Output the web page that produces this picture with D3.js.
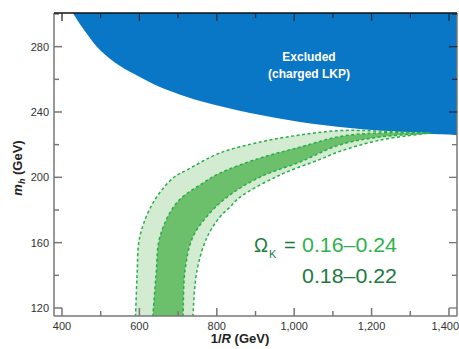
<!DOCTYPE html>
<html>
<head>
<meta charset="utf-8">
<script src="https://cdn.jsdelivr.net/npm/d3@7"></script>
<style>
  body { margin: 0; background: #fff; }
  svg { display: block; font-family: "Liberation Sans", Arial, sans-serif; }
</style>
</head>
<body>
<svg id="chart" width="459" height="349"></svg>
<script>
"use strict"

// axis ticks
var xMajor = [400, 600, 800, 1000, 1200, 1400];
var xMinor = [500, 700, 900, 1100, 1300];
var yMajor = [120, 160, 200, 240, 280];
var yMinor = [140, 180, 220, 260, 300];

// excluded region edge (1/R, m_h)
var excludedEdge = [[428, 300.6], [459, 289.6], [498, 277.9], [550, 268.1], [601, 261.4], [653, 255.3],
    [757, 246.7], [886, 239.4], [1015, 233.9], [1144, 230.2], [1273, 227.8], [1421, 225.9]];

// relic density bands, Omega_K = 0.16-0.24 (outer) and 0.18-0.22 (inner)
var outerUpper = [[588, 108], [590, 115.7], [594, 140], [601, 163.6], [635, 184.3], [687, 199.6], [723, 204.5],
    [808, 214.9], [912, 221.6], [1015, 225.9], [1118, 228.6], [1222, 228.3], [1351, 227.1]];
var outerLower = [[738, 108], [738.5, 115.7], [749, 143.2], [775, 163.4], [808, 175.7], [834, 181.8], [860, 187.9],
    [963, 201.4], [1067, 211.0], [1118, 215.9], [1222, 222.8], [1351, 227.1]];
var innerUpper = [[633, 108], [635, 115.7], [643, 140], [653, 163.6], [696, 184.3], [764, 196.5], [808, 202.6],
    [912, 211.8], [1015, 218.5], [1118, 225.0], [1222, 227.2], [1351, 227.1]];
var innerLower = [[712, 108], [713, 115.7], [718, 143.2], [738, 163.4], [782, 178.1], [834, 189.2], [912, 200.2],
    [1015, 209.4], [1118, 219.9], [1222, 224.7], [1351, 227.1]];

var svg = d3.select("#chart");
var pLeft = 54, pRight = 457, pTop = 13, pBottom = 316;

var x = d3.scaleLinear().domain([379.3, 1420.7]).range([pLeft, pRight]);
var y = d3.scaleLinear().domain([115.1, 300.6]).range([pBottom, pTop]);

svg.append("defs").append("clipPath").attr("id", "plot")
    .append("rect").attr("x", pLeft).attr("y", pTop).attr("width", pRight - pLeft).attr("height", pBottom - pTop);

var g = svg.append("g").attr("clip-path", "url(#plot)");

var line = d3.line().x(function (d) { return x(d[0]); }).y(function (d) { return y(d[1]); })
    .curve(d3.curveCatmullRom);

function band(upper, lower) {
    var back = line(lower.slice().reverse());
    return line(upper) + "L" + back.slice(1) + "Z";
}

// excluded region
var edgePath = line(excludedEdge);
g.append("path")
    .attr("d", edgePath + "L" + x(1430) + "," + y(310) + "L" + x(420) + "," + y(310) + "Z")
    .style("fill", "#0a76c6");

// bands
g.append("path").attr("d", band(outerUpper, outerLower)).style("fill", "#d3ebd0");
g.append("path").attr("d", band(innerUpper, innerLower)).style("fill", "#6cbf6b");

[outerUpper, outerLower, innerUpper, innerLower].forEach(function (pts) {
    g.append("path").attr("d", line(pts))
        .style("fill", "none").style("stroke", "#29ad4b")
        .style("stroke-width", 1.5).style("stroke-dasharray", "3,2.5");
});

// frame and ticks
var frame = svg.append("g").style("stroke", "#777").style("stroke-width", 1.5);
frame.append("line").attr("x1", pLeft).attr("x2", pLeft).attr("y1", pTop).attr("y2", pBottom);
frame.append("line").attr("x1", pLeft).attr("x2", pRight).attr("y1", pBottom).attr("y2", pBottom);
frame.append("line").attr("x1", pRight).attr("x2", pRight).attr("y1", pTop).attr("y2", pBottom);
svg.append("line").attr("x1", pLeft).attr("x2", pRight).attr("y1", pTop).attr("y2", pTop)
    .style("stroke", "#111").style("stroke-width", 1.5);

function ticksX(vals, len) {
    vals.forEach(function (v) {
        frame.append("line").attr("x1", x(v)).attr("x2", x(v)).attr("y1", pBottom).attr("y2", pBottom - len);
        svg.append("line").attr("x1", x(v)).attr("x2", x(v)).attr("y1", pTop).attr("y2", pTop + len)
            .style("stroke", "#1a2a3a").style("stroke-width", 1.3);
    });
}
function ticksY(vals, len) {
    vals.forEach(function (v) {
        frame.append("line").attr("y1", y(v)).attr("y2", y(v)).attr("x1", pLeft).attr("x2", pLeft + len);
        var c = y(v) < y(226) ? "#1a2a3a" : "#777";
        svg.append("line").attr("y1", y(v)).attr("y2", y(v)).attr("x1", pRight).attr("x2", pRight - len)
            .style("stroke", c).style("stroke-width", 1.3);
    });
}
ticksX(xMajor, 8); ticksX(xMinor, 5);
ticksY(yMajor, 8); ticksY(yMinor, 5);

var fmt = d3.format(",");
svg.selectAll(".xl").data(xMajor).enter().append("text")
    .attr("x", function (d) { return d === 1400 ? 459 : x(d); }).attr("y", 329.5)
    .attr("text-anchor", function (d) { return d === 1400 ? "end" : "middle"; })
    .style("font-size", "11px").style("fill", "#333")
    .text(function (d) { return fmt(d); });
svg.selectAll(".yl").data(yMajor).enter().append("text")
    .attr("x", 49).attr("y", function (d) { return y(d) + 4; })
    .attr("text-anchor", "end").style("font-size", "11px").style("fill", "#333")
    .text(function (d) { return d; });

// axis titles
var xt = svg.append("text").attr("x", 240).attr("y", 343).attr("text-anchor", "middle")
    .style("font-size", "13px").style("font-weight", "bold").style("fill", "#222");
xt.append("tspan").text("1/");
xt.append("tspan").style("font-style", "italic").text("R");
xt.append("tspan").text(" (GeV)");

var yt = svg.append("text").attr("transform", "translate(22,168) rotate(-90)").attr("text-anchor", "middle")
    .style("font-size", "13px").style("font-weight", "bold").style("fill", "#222");
yt.append("tspan").style("font-style", "italic").text("m");
yt.append("tspan").style("font-style", "italic").style("font-size", "9px").attr("dy", 3).text("h");
yt.append("tspan").attr("dy", -3).text(" (GeV)");

// labels
svg.append("text").attr("x", 309).attr("y", 61).attr("text-anchor", "middle")
    .style("font-size", "12px").style("font-weight", "bold").style("fill", "#fff").text("Excluded");
svg.append("text").attr("x", 309).attr("y", 78).attr("text-anchor", "middle")
    .style("font-size", "12px").style("font-weight", "bold").style("fill", "#fff").text("(charged LKP)");

var dark = "#1b7b3e", light = "#2db34b";
svg.append("text").attr("x", 254).attr("y", 252).style("font-size", "21px").style("fill", dark)
    .attr("textLength", 14).attr("lengthAdjust", "spacingAndGlyphs").text("\u03A9");
svg.append("text").attr("x", 269).attr("y", 258).style("font-size", "11px").style("fill", dark).text("K");
svg.append("text").attr("x", 284).attr("y", 252).style("font-size", "20px").style("fill", dark).text("=");
svg.append("text").attr("x", 302).attr("y", 252).style("font-size", "20px").style("fill", light)
    .attr("textLength", 95).attr("lengthAdjust", "spacingAndGlyphs").text("0.16\u20130.24");
svg.append("text").attr("x", 302).attr("y", 283).style("font-size", "20px").style("fill", dark)
    .attr("textLength", 95).attr("lengthAdjust", "spacingAndGlyphs").text("0.18\u20130.22");
</script>
</body>
</html>
